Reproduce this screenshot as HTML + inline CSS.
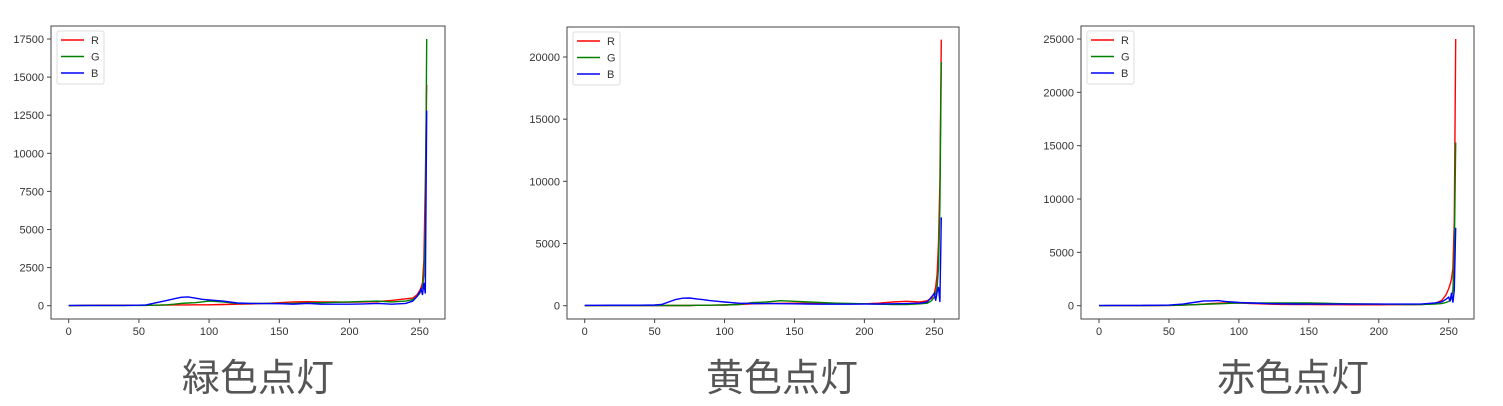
<!DOCTYPE html>
<html><head><meta charset="utf-8">
<style>
body{margin:0;background:#fff;width:1503px;height:406px;overflow:hidden;font-family:"Liberation Sans","Noto Sans CJK JP",sans-serif;}
svg{position:absolute;left:0;top:0}
.title{position:absolute;top:347px;font-size:38px;color:#555;font-family:"Noto Sans CJK JP","Liberation Sans",sans-serif;transform:translateX(-50%);white-space:nowrap}
</style></head><body>
<svg id="chart" width="1503" height="406"></svg>
<div class="title" style="left:258px">緑色点灯</div>
<div class="title" style="left:782px">黄色点灯</div>
<div class="title" style="left:1293px">赤色点灯</div>
<script>
const xs = [0,10,20,30,40,50,55,60,65,70,75,80,85,90,95,100,110,120,130,140,150,160,170,180,190,200,210,220,230,240,245,248,250,251,252,253,254,255];
// Panel 1 (green lit)
const p1R = [0,20,30,30,30,30,30,30,40,40,50,50,50,60,60,60,80,100,120,150,200,250,260,250,240,230,250,260,350,450,500,700,1000,1200,1500,3000,8000,14500];
const p1G = [0,10,10,10,10,20,20,30,40,60,100,150,180,200,250,300,250,150,150,150,150,150,180,200,220,250,280,300,250,300,400,600,800,1000,1200,2000,5000,17500];
const p1B = [20,20,20,20,20,30,50,150,250,350,450,550,580,500,420,380,300,180,150,140,130,100,150,100,100,100,120,150,100,150,300,600,900,1100,700,1500,800,12800];
// Panel 2 (yellow lit)
const p2R = [0,10,20,20,20,20,20,20,20,20,20,30,30,40,50,60,100,150,170,190,200,190,170,160,150,150,200,300,350,300,400,600,1000,1500,2500,5000,10000,21400];
const p2G = [0,10,10,10,10,10,10,20,20,20,20,30,30,40,50,60,100,250,300,400,350,300,250,200,180,150,120,100,100,150,200,400,700,1000,1500,3000,8000,19600];
const p2B = [30,30,40,40,40,60,100,300,500,600,620,550,480,400,350,300,200,180,170,160,150,140,120,120,120,130,140,150,170,200,300,700,1000,400,1100,1500,300,7100];
// Panel 3 (red lit)
const p3R = [0,10,10,10,20,30,40,60,80,100,150,200,230,250,250,250,200,150,120,110,100,90,90,80,80,80,90,90,100,200,500,1000,1600,2000,2500,3500,8000,25000];
const p3G = [0,10,10,10,20,30,40,60,80,100,130,160,180,200,230,250,250,250,250,250,250,230,200,180,160,150,130,110,100,150,200,300,400,500,700,1500,5000,15300];
const p3B = [30,30,30,30,40,60,100,150,250,350,450,450,480,400,350,300,250,200,180,160,150,150,150,150,150,150,150,150,150,250,350,600,800,400,1200,300,1500,7300];
const xTicks = [0,50,100,150,200,250];
const yTicks1 = [0,2500,5000,7500,10000,12500,15000,17500];
const yTicks2 = [0,5000,10000,15000,20000];
const yTicks3 = [0,5000,10000,15000,20000,25000];

const NS="http://www.w3.org/2000/svg";
const svg=document.getElementById('chart');
function mk(tag,attrs,parent){const e=document.createElementNS(NS,tag);for(const k in attrs)e.setAttribute(k,attrs[k]);(parent||svg).appendChild(e);return e;}
const panels=[
 {id:'green-lit',box:[51,26,445,319],x0:68.7,x250:419.7,ymax:17500,yTop:39,yT:yTicks1,R:p1R,G:p1G,B:p1B},
 {id:'yellow-lit',box:[567,27,959,319],x0:584.7,x250:934.3,ymax:20000,yTop:57,yT:yTicks2,R:p2R,G:p2G,B:p2B},
 {id:'red-lit',box:[1081,26,1474,319],x0:1099,x250:1448.7,ymax:25000,yTop:39,yT:yTicks3,R:p3R,G:p3G,B:p3B}
];
panels.forEach(p=>{
  const g=mk('g',{});
  
  
  const y0=305.7;
  const sx=v=>p.x0+(p.x250-p.x0)*v/250;
  const sy=v=>y0-(y0-p.yTop)*v/p.ymax;
  const [l,t,r,b]=p.box;
  const frame=mk('rect',{x:l,y:t,width:r-l,height:b-t,fill:'none',stroke:'#444','stroke-width':1},g);
  
  
  xTicks.forEach(v=>{
    const x=sx(v);
    mk('line',{x1:x,x2:x,y1:b,y2:b+4,stroke:'#444'},g);
    const tx=mk('text',{x:x,y:b+16,'font-size':11,'text-anchor':'middle',fill:'#333'},g);
    tx.textContent=v;
    
    
  });
  p.yT.forEach(v=>{
    const y=sy(v);
    mk('line',{x1:l-4,x2:l,y1:y,y2:y,stroke:'#444'},g);
    const ty=mk('text',{x:l-7,y:y+4,'font-size':11,'text-anchor':'end',fill:'#333'},g);
    ty.textContent=v;
    
    
  });
  [['R',p.R,'#ff0000'],['G',p.G,'#008000'],['B',p.B,'#0000ff']].forEach(([n,arr,c])=>{
    const pts=xs.map((x,i)=>sx(x).toFixed(1)+','+sy(arr[i]).toFixed(1)).join(' ');
    const pl=mk('polyline',{points:pts,fill:'none',stroke:c,'stroke-width':1.4},g);
    
    
  });
  const lg=mk('g',{},g);
  
  
  mk('rect',{x:l+6,y:t+5,width:47,height:53,fill:'#fff',stroke:'#ddd',rx:2},lg);
  [['R','#ff0000'],['G','#008000'],['B','#0000ff']].forEach(([n,c],i)=>{
    const yy=t+14+i*16.5;
    mk('line',{x1:l+10,x2:l+33,y1:yy,y2:yy,stroke:c,'stroke-width':1.5},lg);
    const lt=mk('text',{x:l+40,y:yy+4,'font-size':11,fill:'#333'},lg);
    lt.textContent=n;
    
    
  });
});
</script>
</body></html>
